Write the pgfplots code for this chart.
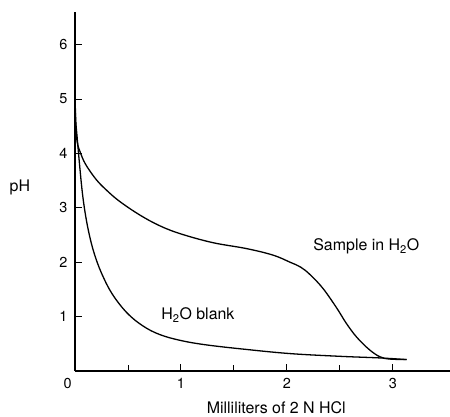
\documentclass[border=0pt]{standalone}
\usepackage{fontspec}
\setmainfont{TeX Gyre Heros}
\usepackage{pgfplots}
\pgfplotsset{compat=1.18}

\begin{document}
\begin{tikzpicture}
\fontsize{16}{18}\selectfont
\begin{axis}[
  scale only axis, width=375bp, height=359bp,
  axis lines=left, axis line style={line width=1.1pt, -},
  xmin=0, xmax=3.54, ymin=0, ymax=6.6,
  xtick={1,2,3}, minor xtick={0.5,1.5,2.5},
  ytick={1,2,3,4,5,6},
  tick align=inside, major tick length=7bp, minor tick length=6bp,
  tick style={line width=0.9pt, black},
  tick label style={font=\fontsize{14.5}{16}\selectfont},
  xticklabel style={yshift=-2bp},
  yticklabel style={xshift=-2bp},
  /pgf/number format/assume math mode=true,
  clip=false,
]
  % sample in water
  \addplot[black, line width=1.3pt, smooth, tension=0.6] coordinates {
    (0.0,5.4) (0.005,4.6) (0.02,4.22) (0.05,4.02) (0.1,3.80) (0.2,3.52)
    (0.3,3.32) (0.42,3.12) (0.61,2.87) (0.8,2.67) (1.0,2.52) (1.3,2.36)
    (1.62,2.25) (1.87,2.13) (2.03,2.0) (2.13,1.91) (2.22,1.77) (2.34,1.52)
    (2.47,1.16) (2.56,0.88) (2.66,0.62) (2.78,0.39) (2.88,0.26) (2.97,0.22)
    (3.13,0.21)
  };
  % water blank
  \addplot[black, line width=1.3pt, smooth, tension=0.6] coordinates {
    (0.0,5.4) (0.005,4.7) (0.02,4.3) (0.06,3.45) (0.09,2.98) (0.13,2.55)
    (0.18,2.17) (0.25,1.80) (0.35,1.42) (0.49,1.07) (0.64,0.83) (0.8,0.67)
    (1.0,0.56) (1.24,0.48) (1.6,0.40) (2.03,0.32) (2.5,0.27) (2.88,0.24)
    (3.13,0.21)
  };
  \node[anchor=north east, inner sep=0pt, font=\fontsize{14.5}{16}\selectfont]
    at (axis cs:-0.03,-0.13) {0};
  \node at (axis cs:2.75,2.29) {Sample in H\textsubscript{2}O};
  \node at (axis cs:1.16,1.03) {H\textsubscript{2}O blank};
  \node at (axis cs:-0.52,3.38) {pH};
  \node at (axis cs:1.9,-0.68) {Milliliters of 2 N HCl};
  \coordinate (O) at (axis cs:0,0);
\end{axis}
\pgfresetboundingbox
\path (O) ++(-75bp,-46bp) rectangle ++(450bp,417bp);
\end{tikzpicture}
\end{document}
